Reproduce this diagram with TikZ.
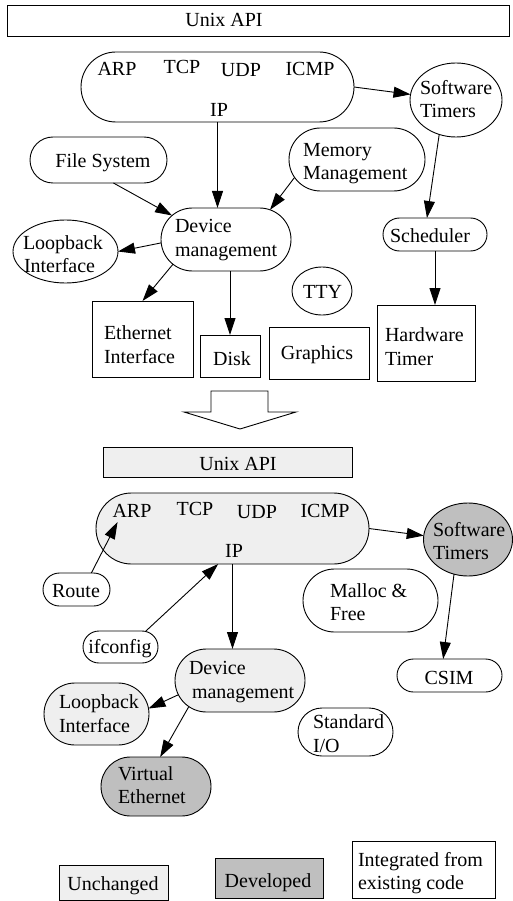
\documentclass[tikz,border=0pt]{standalone}
\usepackage{fontspec}
\setmainfont{Liberation Serif}
\usetikzlibrary{shapes.misc,shapes.geometric,arrows.meta,calc}
\definecolor{lightfill}{HTML}{EFEFEF}
\definecolor{devfill}{HTML}{BFBFBF}
\tikzset{
  every node/.style={inner sep=0pt, outer sep=0pt},
  boxn/.style={draw, line width=0.9pt, rectangle, minimum width=#1},
  stad/.style={draw, line width=0.9pt, rounded rectangle},
  ell/.style={draw, line width=0.9pt, ellipse},
  txt/.style={anchor=base, inner sep=1pt},
  txl/.style={anchor=base west, inner sep=0pt},
  conn/.style={line width=0.9pt, -{Triangle[length=17pt,width=11pt]}},
  unch/.style={fill=lightfill},
  devd/.style={fill=devfill}
}
\begin{document}
\begin{tikzpicture}[x=1pt,y=-1pt,font=\fontsize{20}{23}\selectfont]
\useasboundingbox (0,0) rectangle (512,901);
% ---------- top part ----------
\node[boxn=502, minimum height=31] (api1) at (258,20.5) {};
\node[txt] (api1t) at (224,27) {Unix API};
\node[stad, minimum width=273, minimum height=70] (ip1) at (217.5,87) {};
\node[txt] (arp1) at (117,76) {ARP};
\node[txt] (tcp1) at (182,74) {TCP};
\node[txt] (udp1) at (241,77) {UDP};
\node[txt] (icmp1) at (310,76) {ICMP};
\node[txt] (ipt1) at (219,117) {IP};
\node[ell, minimum width=92, minimum height=74] (sw1) at (456,100) {};
\node[txl] (sw1a) at (420,95) {Software};
\node[txl] (sw1b) at (420,118) {Timers};
\node[stad, minimum width=137, minimum height=46] (fs) at (98.5,160) {};
\node[txt] (fst) at (103,168) {File System};
\node[stad, minimum width=136, minimum height=63] (mm) at (357,159.5) {};
\node[txl] (mma) at (303,157) {Memory};
\node[txl] (mmb) at (303,180) {Management};
\node[stad, minimum width=130, minimum height=63] (dm1) at (226,239.5) {};
\node[txl] (dm1a) at (175,233) {Device};
\node[txl] (dm1b) at (175,256) {management};
\node[stad, minimum width=104, minimum height=33] (sch) at (435,234.5) {};
\node[txt] (scht) at (430,243) {Scheduler};
\node[ell, minimum width=105, minimum height=63] (lb1) at (65.5,251.5) {};
\node[txl] (lb1a) at (23,249) {Loopback};
\node[txl] (lb1b) at (24,272) {Interface};
\node[ell, minimum width=60, minimum height=48] (tty) at (322,291) {};
\node[txt] (ttyt) at (322.5,298) {TTY};
\node[boxn=101, minimum height=76] (eth) at (142.5,339) {};
\node[txl] (etha) at (104,339) {Ethernet};
\node[txl] (ethb) at (104,363) {Interface};
\node[boxn=60, minimum height=42] (disk) at (230,356) {};
\node[txt] (diskt) at (232,365) {Disk};
\node[boxn=100, minimum height=52] (gfx) at (319,353) {};
\node[txt] (gfxt) at (317,359) {Graphics};
\node[boxn=98, minimum height=76] (hw) at (426,343) {};
\node[txl] (hwa) at (385,341) {Hardware};
\node[txl] (hwb) at (385,365) {Timer};
% connectors top
\draw[conn] (ip1.east) -- (sw1.173);
\draw[conn] (ip1.south) -- (ip1.south |- dm1.north);
\draw[conn] (fs.303) -- (dm1.156);
\draw[conn] (mm.196) -- (dm1.34);
\draw[conn] (sw1.244) -- (sch.116);
\draw[conn] (sch.south) -- (sch.south |- hw.north);
\draw[conn] (dm1.183) -- (lb1.east);
\draw[conn] (dm1.205) -- (eth.north);
\draw[conn] (disk.north |- dm1.south) -- (disk.north);
% ---------- big hollow arrow ----------
\draw[line width=0.9pt] (211,391) -- (268,391) -- (268,412) -- (296,412) -- (240,429) -- (184,412) -- (211,412) -- cycle;
% ---------- bottom part ----------
\node[boxn=249, minimum height=30, unch] (api2) at (227.5,462) {};
\node[txt] (api2t) at (238,470) {Unix API};
\node[stad, unch, minimum width=273, minimum height=71] (ip2) at (232.5,528.5) {};
\node[txt] (arp2) at (132,517) {ARP};
\node[txt] (tcp2) at (195,515) {TCP};
\node[txt] (udp2) at (257,518) {UDP};
\node[txt] (icmp2) at (325,517) {ICMP};
\node[txt] (ipt2) at (234,557) {IP};
\node[ell, devd, minimum width=89, minimum height=73] (sw2) at (468,539.5) {};
\node[txl] (sw2a) at (433,536) {Software};
\node[txl] (sw2b) at (433,559) {Timers};
\node[stad, minimum width=67, minimum height=33] (route) at (76.5,589.5) {};
\node[txt] (routet) at (76,597) {Route};
\node[stad, minimum width=75, minimum height=32] (ifc) at (120.5,647) {};
\node[txt] (ifct) at (120,653) {ifconfig};
\node[stad, minimum width=135, minimum height=63] (mal) at (370.5,600.5) {};
\node[txl] (mala) at (330,597) {Malloc \&};
\node[txl] (malb) at (330,620) {Free};
\node[stad, minimum width=105, minimum height=33] (csim) at (449.5,675.5) {};
\node[txt] (csimt) at (449,684) {CSIM};
\node[stad, unch, minimum width=130, minimum height=63] (dm2) at (240,680.5) {};
\node[txl] (dm2a) at (189,674) {Device};
\node[txl] (dm2b) at (192,698) {management};
\node[stad, unch, minimum width=105, minimum height=62] (lb2) at (96.5,714) {};
\node[txl] (lb2a) at (59,708) {Loopback};
\node[txl] (lb2b) at (59,732) {Interface};
\node[stad, minimum width=95, minimum height=48] (sio) at (345.5,732) {};
\node[txl] (sioa) at (313,728) {Standard};
\node[txl] (siob) at (313,752) {I/O};
\node[stad, devd, minimum width=110, minimum height=59] (ve) at (156,786.5) {};
\node[txl] (vea) at (118,780) {Virtual};
\node[txl] (veb) at (118,803) {Ethernet};
% connectors bottom
\draw[conn] (ip2.east) -- (sw2.175);
\draw[conn] (route.48) -- ($(arp2.south west)+(6,4)$);
\draw[conn] (ifc.32) -- (ip2.248);
\draw[conn] (ip2.south) -- (ip2.south |- dm2.north);
\draw[conn] (sw2.248) -- (csim.111);
\draw[conn] (dm2.193) -- (lb2.6);
\draw[conn] (dm2.207) -- (ve.82);
% ---------- legend ----------
\node[boxn=109, minimum height=35, unch] (unc) at (113.5,883) {};
\node[txt] (unct) at (113,890) {Unchanged};
\node[boxn=108, minimum height=40, devd] (dev) at (269,878) {};
\node[txt] (devt) at (268,887) {Developed};
\node[boxn=143, minimum height=57] (integ) at (423.5,869.5) {};
\node[txl] (intega) at (358,866) {Integrated from};
\node[txl] (integb) at (358,889) {existing code};
\end{tikzpicture}
\end{document}
